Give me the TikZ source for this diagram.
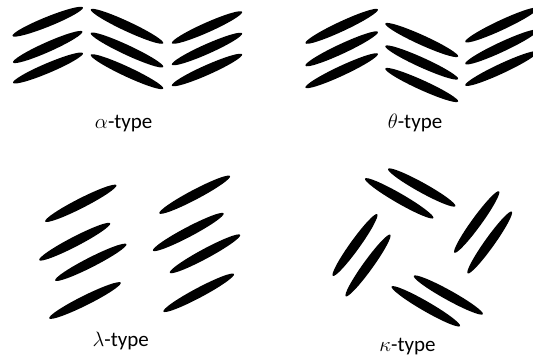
\documentclass[tikz,border=0pt]{standalone}
\usepackage{fontspec}
\setmainfont{Carlito}
\begin{document}
\begin{tikzpicture}[x=1pt,y=-1pt]
  \tikzset{
    rod/.style={fill=black},
    typelabel/.style={anchor=base,inner sep=0pt,font=\fontsize{21}{24}\selectfont}
  }
  % one rod-shaped molecule: centre x, centre y, angle, half length
  \newcommand\rodat[4]{\fill[rod,shift={(#1,#2)},rotate=#3] (0,0) ellipse [x radius=#4pt, y radius=4.9pt];}
  \useasboundingbox (0,0) rectangle (533,360);

  % alpha-type
  \rodat{47.7}{21.7}{22}{38}
  \rodat{47.7}{47}{24}{38}
  \rodat{48}{68}{23}{38}
  \rodat{127}{26.3}{-25}{40}
  \rodat{127}{50}{-25}{40}
  \rodat{127}{71.7}{-25}{40}
  \rodat{207}{27.5}{24}{38.5}
  \rodat{207}{49}{24}{38.5}
  \rodat{207}{70}{24}{38.5}
  \node[typelabel] (la) at (123.7,128.5) {$\alpha$-type};

  % theta-type
  \rodat{341.7}{26.3}{25}{40}
  \rodat{341.7}{48.8}{25}{40}
  \rodat{341.7}{70.7}{25}{40}
  \rodat{421.7}{40}{-24.4}{40}
  \rodat{421.7}{62.5}{-24.4}{40}
  \rodat{421.7}{85}{-24.4}{40}
  \rodat{501.5}{25}{25}{40}
  \rodat{501.5}{47}{25}{40}
  \rodat{501.5}{68.5}{25}{40}
  \node[typelabel] (lt) at (415,128) {$\theta$-type};

  % lambda-type
  \rodat{80.8}{203.3}{27}{40}
  \rodat{74.7}{241.7}{27.4}{40}
  \rodat{90.8}{262.3}{27}{40}
  \rodat{85}{300.5}{26.5}{40}
  \rodat{194.7}{194.7}{27.8}{40}
  \rodat{188.3}{232}{27.8}{40}
  \rodat{205}{253.8}{28.3}{40}
  \rodat{198.7}{292.8}{28}{40}
  \node[typelabel] (ll) at (120.8,346.7) {$\lambda$-type};

  % kappa-type
  \rodat{399.2}{198.3}{-30}{39.5}
  \rodat{421.7}{187.5}{-29}{38.5}
  \rodat{355}{245}{54.3}{38}
  \rodat{368}{265.5}{54.2}{38}
  \rodat{476.7}{222}{54}{38}
  \rodat{489.7}{242.5}{54.5}{38}
  \rodat{425.8}{306.3}{-30}{39.5}
  \rodat{448.3}{295}{-29}{39.5}
  \node[typelabel] (lk) at (407.5,351.7) {$\kappa$-type};
\end{tikzpicture}
\end{document}
